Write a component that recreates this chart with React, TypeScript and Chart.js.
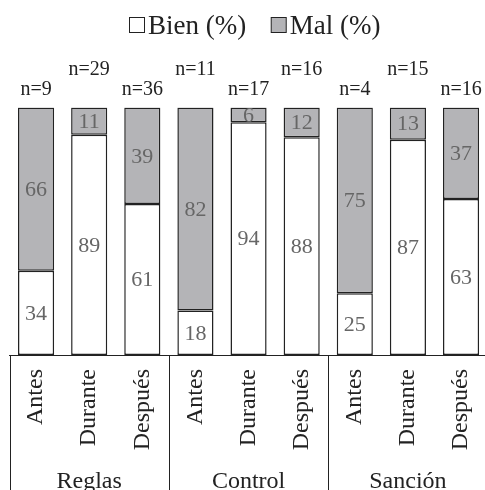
import React, { useEffect, useRef } from "react";
import { Chart, registerables } from "chart.js";

Chart.register(...registerables);

const categories = ["Antes", "Durante", "Después", "Antes", "Durante", "Después", "Antes", "Durante", "Después"];
const groups = ["Reglas", "Control", "Sanción"];
const bien = [34, 89, 61, 18, 94, 88, 25, 87, 63];
const mal = [66, 11, 39, 82, 6, 12, 75, 13, 37];
const nLabels = ["n=9", "n=29", "n=36", "n=11", "n=17", "n=16", "n=4", "n=15", "n=16"];
const legendLabels = ["Bien (%)", "Mal (%)"];

const FONT = "'Liberation Serif', 'Times New Roman', serif";
const DARK = "#222222";
const GRAY = "rgb(180,180,183)";

const overlayPlugin = {
  id: "overlay",
  afterDraw(chart: any) {
    const ctx = chart.ctx;
    const xs = chart.scales.x;
    const area = chart.chartArea;
    ctx.save();

    // legend
    ctx.font = `27px ${FONT}`;
    ctx.textBaseline = "alphabetic";
    ctx.textAlign = "left";
    let lx = 129.5;
    const fills = ["#ffffff", GRAY];
    legendLabels.forEach((lab, i) => {
      ctx.fillStyle = fills[i];
      ctx.fillRect(lx, 17.5, 15, 15);
      ctx.strokeStyle = DARK;
      ctx.lineWidth = 1;
      ctx.strokeRect(lx, 17.5, 15, 15);
      ctx.fillStyle = DARK;
      ctx.fillText(lab, lx + 18.5, 34);
      lx += 18.5 + ctx.measureText(lab).width + 25;
    });

    // n labels
    ctx.font = `20px ${FONT}`;
    ctx.textAlign = "center";
    ctx.fillStyle = DARK;
    nLabels.forEach((lab, i) => {
      const x = xs.getPixelForValue(i);
      const y = i % 2 === 0 ? area.top - 12.5 : area.top - 33;
      ctx.fillText(lab, x, y);
    });

    // values
    ctx.font = `22px ${FONT}`;
    ctx.fillStyle = "#666666";
    ctx.textBaseline = "middle";
    chart.data.datasets.forEach((ds: any, di: number) => {
      const meta = chart.getDatasetMeta(di);
      meta.data.forEach((el: any, i: number) => {
        const props = el.getProps(["x", "y", "base"], true);
        const cy = (props.y + props.base) / 2 + 1;
        ctx.fillText(String(ds.data[i]), props.x, cy);
      });
    });

    // group separators
    ctx.strokeStyle = DARK;
    ctx.lineWidth = 1;
    const n = categories.length;
    const per = n / groups.length;
    const bounds: number[] = [];
    for (let g = 0; g <= groups.length; g++) {
      let x;
      if (g === 0) x = area.left;
      else if (g === groups.length) x = area.right;
      else x = (xs.getPixelForValue(g * per - 1) + xs.getPixelForValue(g * per)) / 2;
      bounds.push(x);
      ctx.beginPath();
      ctx.moveTo(Math.round(x) + 0.5, area.bottom);
      ctx.lineTo(Math.round(x) + 0.5, chart.height);
      ctx.stroke();
    }

    // group labels
    ctx.font = `24px ${FONT}`;
    ctx.fillStyle = DARK;
    ctx.textBaseline = "alphabetic";
    groups.forEach((g, i) => {
      const cx = (bounds[i] + bounds[i + 1]) / 2;
      ctx.fillText(g, cx, 488);
    });

    ctx.restore();
  },
};

export default function App() {
  const ref = useRef<HTMLCanvasElement>(null);
  useEffect(() => {
    if (!ref.current) return;
    const chart = new Chart(ref.current, {
      type: "bar",
      data: {
        labels: categories,
        datasets: [
          {
            label: legendLabels[0],
            data: bien,
            backgroundColor: "#ffffff",
            borderColor: DARK,
            borderWidth: 1.5,
            borderSkipped: false,
            barPercentage: 0.68,
            categoryPercentage: 1,
          },
          {
            label: legendLabels[1],
            data: mal,
            backgroundColor: GRAY,
            borderColor: DARK,
            borderWidth: 1.5,
            borderSkipped: false,
            barPercentage: 0.68,
            categoryPercentage: 1,
          },
        ],
      },
      options: {
        responsive: false,
        animation: false,
        devicePixelRatio: 1,
        layout: { padding: { left: 9.5, right: 2.4, top: 107.5, bottom: 0 } },
        plugins: { legend: { display: false }, tooltip: { enabled: false } },
        scales: {
          x: {
            stacked: true,
            grid: { display: false, drawTicks: false },
            border: { display: true, color: DARK, width: 1 },
            ticks: {
              autoSkip: false,
              minRotation: 90,
              maxRotation: 90,
              padding: 14,
              color: DARK,
              font: { family: FONT, size: 24 },
            },
            afterFit: (s: any) => {
              s.height = 135;
              s.paddingLeft = 0;
              s.paddingRight = 0;
            },
          },
          y: {
            stacked: true,
            display: false,
            min: 0,
            max: 100,
          },
        },
      },
      plugins: [overlayPlugin],
    });
    return () => chart.destroy();
  }, []);
  return (
    <div style={{ position: "fixed", left: 0, top: 0, width: 485, height: 490, overflow: "hidden", background: "#fff" }}>
      <canvas ref={ref} width={490} height={490} style={{ width: 490, height: 490, display: "block" }} />
    </div>
  );
}
